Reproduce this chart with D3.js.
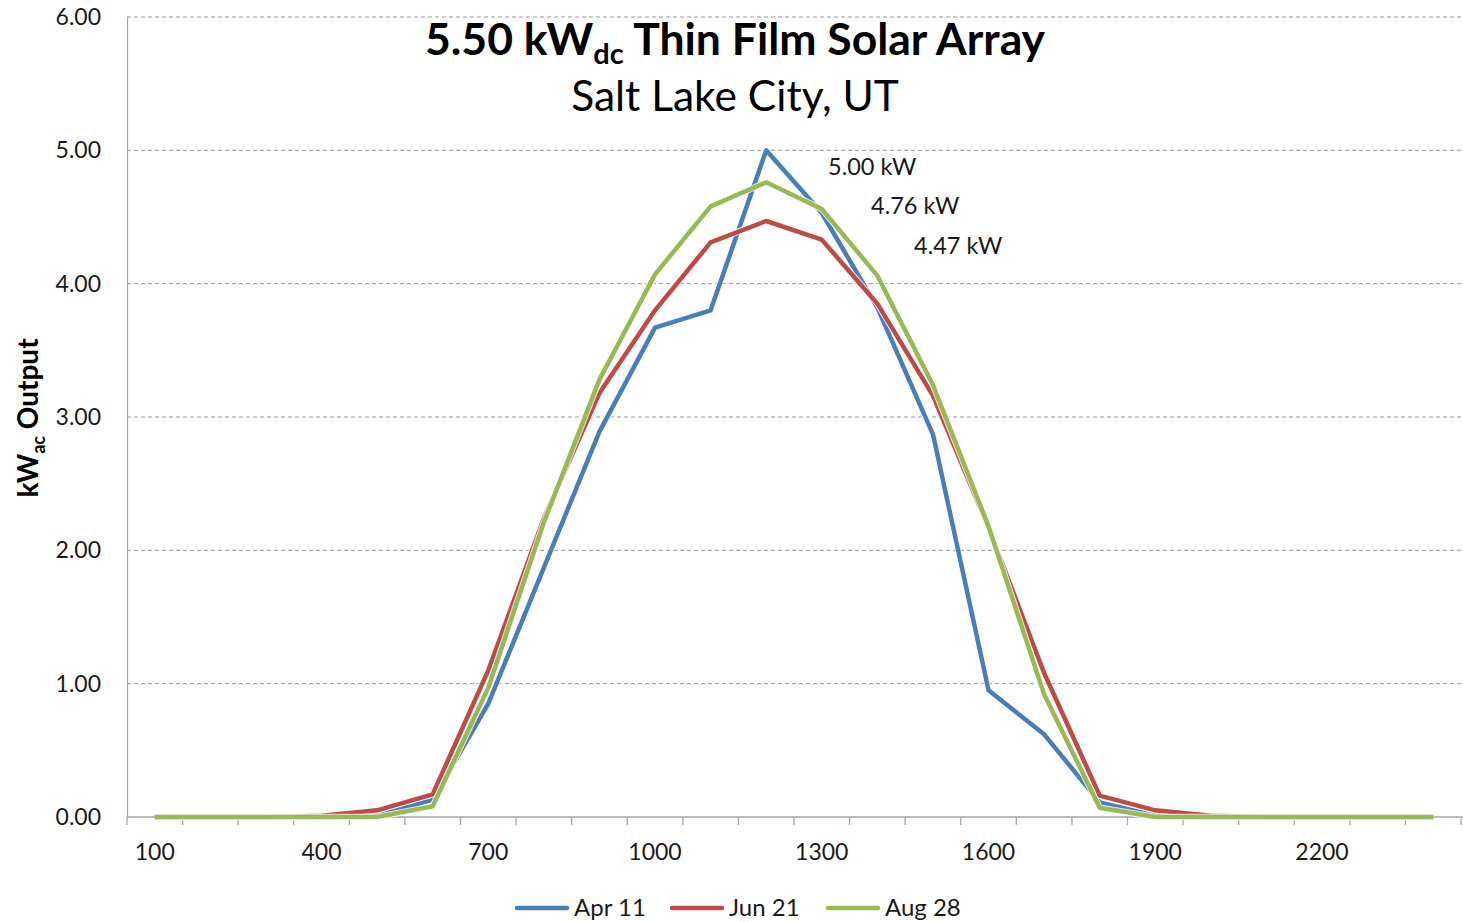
<!DOCTYPE html>
<html>
<head>
<meta charset="utf-8">
<script src="https://cdn.jsdelivr.net/npm/d3@7"></script>
<style>
  html, body { margin: 0; padding: 0; background: #fff; }
  svg { display: block; font-family: Lato, "Open Sans", sans-serif; }
</style>
</head>
<body>
<svg id="chart" width="1463" height="922"></svg>
<script>
const hours = [100,200,300,400,500,600,700,800,900,1000,1100,1200,1300,1400,1500,1600,1700,1800,1900,2000,2100,2200,2300,2400];
const apr11 = [0,0,0,0,0.01,0.13,0.85,1.87,2.89,3.67,3.80,5.00,4.53,3.82,2.87,0.95,0.62,0.11,0.01,0,0,0,0,0];
const jun21 = [0,0,0,0.01,0.05,0.17,1.10,2.24,3.18,3.80,4.31,4.47,4.33,3.85,3.16,2.17,1.08,0.16,0.05,0.01,0,0,0,0];
const aug28 = [0,0,0,0,0,0.08,0.97,2.21,3.28,4.07,4.58,4.76,4.56,4.06,3.24,2.18,0.92,0.07,0,0,0,0,0,0];
const seriesNames = ["Apr 11","Jun 21","Aug 28"];
const seriesColors = ["#4a7ebb","#be4b48","#98b954"];
const yTicks = [0,1,2,3,4,5,6];
const xTickLabels = [100,400,700,1000,1300,1600,1900,2200];
const peakLabels = ["5.00 kW","4.76 kW","4.47 kW"];

const svg = d3.select("#chart");
const m = {left:127, right:1461, top:17, bottom:817};

const x = d3.scaleBand().domain(hours).range([m.left, m.right]).paddingInner(0).paddingOuter(0);
const y = d3.scaleLinear().domain([0,6]).range([m.bottom, m.top]);

// gridlines
svg.append("g").selectAll("line").data(yTicks.filter(d => d > 0)).join("line")
  .attr("x1", m.left).attr("x2", 1463)
  .attr("y1", d => y(d)).attr("y2", d => y(d))
  .attr("stroke", "#999999").attr("stroke-width", 1).attr("stroke-dasharray", "4,3");

// y axis
const yAxis = d3.axisLeft(y).tickValues(yTicks).tickFormat(d3.format(".2f")).tickSize(0).tickPadding(26);
const gy = svg.append("g").attr("transform", `translate(${m.left},0)`).call(yAxis);
gy.select(".domain").attr("stroke", "#a6a6a6").attr("stroke-width", 1.3);
gy.selectAll("text").attr("font-size", 23).attr("fill", "#1a1a1a").attr("font-family", "Lato, sans-serif");

// x axis: ticks at category boundaries
svg.append("line").attr("x1", m.left).attr("x2", 1463).attr("y1", m.bottom).attr("y2", m.bottom)
  .attr("stroke", "#a6a6a6").attr("stroke-width", 1.3);
const bounds = hours.map(h => x(h)).concat([x(hours[hours.length-1]) + x.bandwidth()]);
svg.append("g").selectAll("line").data(bounds).join("line")
  .attr("x1", d => d).attr("x2", d => d).attr("y1", m.bottom).attr("y2", m.bottom + 8)
  .attr("stroke", "#a6a6a6").attr("stroke-width", 1.3);
svg.append("g").selectAll("text").data(xTickLabels).join("text")
  .attr("x", d => x(d) + x.bandwidth()/2).attr("y", 860)
  .attr("text-anchor", "middle").attr("font-size", 23).attr("fill", "#1a1a1a")
  .text(d => d);

// lines
const line = d3.line().x((d,i) => x(hours[i]) + x.bandwidth()/2).y(d => y(d));
const allSeries = [apr11, jun21, aug28];
allSeries.forEach((s, i) => {
  svg.append("path").attr("d", line(s)).attr("fill", "none")
    .attr("stroke", "#ffffff").attr("stroke-width", 6.5).attr("stroke-linejoin", "round").attr("opacity", 0.8);
  svg.append("path").attr("d", line(s)).attr("fill", "none")
    .attr("stroke", seriesColors[i]).attr("stroke-width", 4.5).attr("stroke-linejoin", "round");
});

// peak labels
const peakPos = [[828,175],[871,214],[914,254]];
svg.append("g").selectAll("text").data(peakLabels).join("text")
  .attr("x", (d,i) => peakPos[i][0]).attr("y", (d,i) => peakPos[i][1])
  .attr("font-size", 23.5).attr("fill", "#1a1a1a").text(d => d);

// title
const t = svg.append("text").attr("x", 735).attr("y", 55).attr("text-anchor", "middle")
  .attr("font-size", 44.5).attr("font-weight", "bold").attr("fill", "#000");
t.append("tspan").text("5.50 kW");
t.append("tspan").attr("font-size", 29).attr("dy", 9).text("dc");
t.append("tspan").attr("dy", -9).text(" Thin Film Solar Array");
svg.append("text").attr("x", 735).attr("y", 111).attr("text-anchor", "middle")
  .attr("font-size", 42.5).attr("fill", "#000").text("Salt Lake City, UT");

// y axis title
const yt = svg.append("text").attr("transform", "translate(38,418) rotate(-90)")
  .attr("text-anchor", "middle").attr("font-size", 28).attr("font-weight", "bold").attr("fill", "#000");
yt.append("tspan").text("kW");
yt.append("tspan").attr("font-size", 18).attr("dy", 7).text("ac");
yt.append("tspan").attr("dy", -7).text(" Output");

// legend
const legX = [517, 672, 828];
const lg = svg.append("g");
seriesNames.forEach((n, i) => {
  lg.append("line").attr("x1", legX[i]).attr("x2", legX[i] + 50).attr("y1", 908).attr("y2", 908)
    .attr("stroke", seriesColors[i]).attr("stroke-width", 4.5).attr("stroke-linecap", "round");
  lg.append("text").attr("x", legX[i] + 57).attr("y", 916).attr("font-size", 24).attr("fill", "#1a1a1a").text(n);
});
</script>
</body>
</html>
